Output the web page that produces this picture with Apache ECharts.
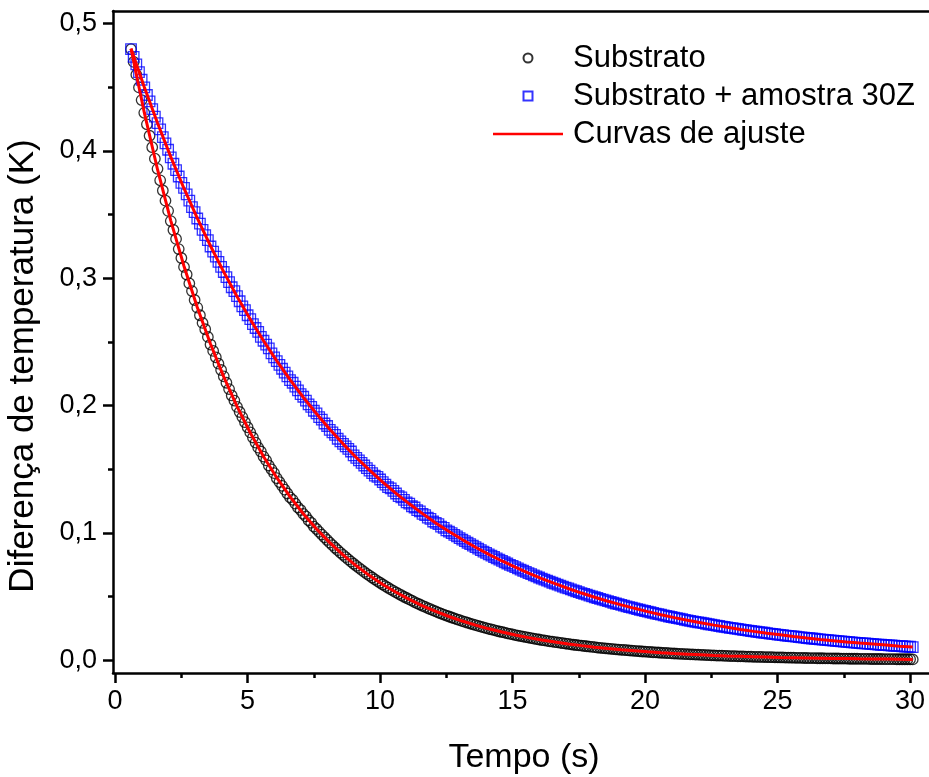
<!DOCTYPE html>
<html>
<head>
<meta charset="utf-8">
<script src="https://cdn.jsdelivr.net/npm/echarts@6/dist/echarts.min.js"></script>
<style>html,body{margin:0;padding:0;background:#fff;overflow:hidden}#c{width:929px;height:777px}</style>
</head>
<body>
<div id="c"></div>
<script>
// Sampling of the measured data: first time (s) and step (s)
const dataStart = 0.6, dataStep = 0.1;
// Fit curves sampled every 0.5 s from 0.6 s
const fitStart = 0.6, fitStep = 0.5;

const xMajorTicks = [0, 5, 10, 15, 20, 25, 30];
const yMajorTicks = [0, 0.1, 0.2, 0.3, 0.4, 0.5];

const seriesNames = ['Substrato', 'Substrato + amostra 30Z', 'Curvas de ajuste'];

const substrato = [
0.480,0.470,0.460,0.450,0.440,0.430,0.421,0.412,0.403,0.394,
0.386,0.377,0.369,0.361,0.353,0.345,0.338,0.331,0.323,0.316,
0.309,0.303,0.296,0.290,0.283,0.277,0.271,0.265,0.260,0.254,
0.248,0.243,0.238,0.233,0.228,0.223,0.218,0.213,0.208,0.204,
0.199,0.195,0.191,0.187,0.183,0.179,0.175,0.171,0.167,0.164,
0.160,0.157,0.153,0.150,0.147,0.143,0.140,0.137,0.134,0.131,
0.128,0.126,0.123,0.120,0.118,0.115,0.113,0.110,0.108,0.105,
0.1031,0.1009,0.0987,0.0966,0.0945,0.0924,0.0904,0.0884,0.0865,0.0846,
0.0828,0.0810,0.0792,0.0775,0.0758,0.0742,0.0726,0.0710,0.0694,0.0679,
0.0665,0.0650,0.0636,0.0622,0.0609,0.0595,0.0582,0.0570,0.0557,0.0545,
0.0534,0.0522,0.0511,0.0499,0.0489,0.0478,0.0468,0.0457,0.0447,0.0438,
0.0428,0.0419,0.0410,0.0401,0.0392,0.0384,0.0375,0.0367,0.0359,0.0351,
0.0344,0.0336,0.0329,0.0322,0.0315,0.0308,0.0301,0.0295,0.0288,0.0282,
0.0276,0.0270,0.0264,0.0258,0.0253,0.0247,0.0242,0.0237,0.0231,0.0226,
0.0222,0.0217,0.0212,0.0207,0.0203,0.0198,0.0194,0.0190,0.0186,0.0182,
0.0178,0.0174,0.0170,0.0166,0.0163,0.0159,0.0156,0.0152,0.0149,0.0146,
0.0143,0.0140,0.0137,0.0134,0.0131,0.0128,0.0125,0.0122,0.0120,0.0117,
0.0115,0.0112,0.0110,0.0107,0.0105,0.0103,0.0100,0.0098,0.0096,0.0094,
0.0092,0.0090,0.0088,0.0086,0.0084,0.0082,0.0081,0.0079,0.0077,0.0075,
0.0074,0.0072,0.0071,0.0069,0.0068,0.0066,0.0065,0.0063,0.0062,0.0061,
0.0059,0.0058,0.0057,0.0056,0.0054,0.0053,0.0052,0.0051,0.0050,0.0049,
0.0048,0.0047,0.0046,0.0045,0.0044,0.0043,0.0042,0.0041,0.0040,0.0039,
0.0038,0.0037,0.0037,0.0036,0.0035,0.0034,0.0033,0.0033,0.0032,0.0031,
0.0031,0.0030,0.0029,0.0029,0.0028,0.0027,0.0027,0.0026,0.0026,0.0025,
0.0025,0.0024,0.0024,0.0023,0.0023,0.0022,0.0022,0.0021,0.0021,0.0020,
0.0020,0.0019,0.0019,0.0019,0.0018,0.0018,0.0017,0.0017,0.0017,0.0016,
0.0016,0.0016,0.0015,0.0015,0.0015,0.0014,0.0014,0.0014,0.0013,0.0013,
0.0013,0.0012,0.0012,0.0012,0.0012,0.0011,0.0011,0.0011,0.0011,0.0010,
0.0010,0.0010,0.0010,0.0010,0.0009,0.0009,0.0009,0.0009,0.0009,0.0008,
0.0008,0.0008,0.0008,0.0008,0.0008,0.0007
];

const amostra30Z = [
0.480,0.474,0.468,0.462,0.456,0.450,0.444,0.439,0.433,0.427,
0.422,0.417,0.411,0.406,0.401,0.395,0.390,0.385,0.380,0.375,
0.371,0.366,0.361,0.356,0.352,0.347,0.343,0.338,0.334,0.330,
0.325,0.321,0.317,0.313,0.309,0.305,0.301,0.297,0.293,0.290,
0.286,0.282,0.278,0.275,0.271,0.268,0.264,0.261,0.258,0.254,
0.251,0.248,0.245,0.241,0.238,0.235,0.232,0.229,0.226,0.223,
0.220,0.218,0.215,0.212,0.209,0.207,0.204,0.201,0.199,0.196,
0.194,0.191,0.189,0.186,0.184,0.181,0.179,0.177,0.174,0.172,
0.170,0.168,0.166,0.164,0.161,0.159,0.157,0.155,0.153,0.151,
0.149,0.147,0.145,0.144,0.142,0.140,0.138,0.136,0.135,0.133,
0.131,0.129,0.128,0.126,0.124,0.123,0.121,0.120,0.118,0.117,
0.115,0.114,0.112,0.111,0.109,0.108,0.107,0.105,0.104,0.102,
0.1011,0.0998,0.0985,0.0973,0.0960,0.0948,0.0936,0.0923,0.0912,0.0900,
0.0888,0.0877,0.0865,0.0854,0.0843,0.0832,0.0822,0.0811,0.0800,0.0790,
0.0780,0.0770,0.0760,0.0750,0.0741,0.0731,0.0722,0.0712,0.0703,0.0694,
0.0685,0.0676,0.0667,0.0659,0.0650,0.0642,0.0634,0.0625,0.0617,0.0609,
0.0602,0.0594,0.0586,0.0579,0.0571,0.0564,0.0557,0.0549,0.0542,0.0535,
0.0528,0.0521,0.0515,0.0508,0.0502,0.0495,0.0489,0.0482,0.0476,0.0470,
0.0464,0.0458,0.0452,0.0446,0.0441,0.0435,0.0429,0.0424,0.0418,0.0413,
0.0408,0.0402,0.0397,0.0392,0.0387,0.0382,0.0377,0.0372,0.0367,0.0363,
0.0358,0.0353,0.0349,0.0344,0.0340,0.0335,0.0331,0.0327,0.0323,0.0318,
0.0314,0.0310,0.0306,0.0302,0.0298,0.0295,0.0291,0.0287,0.0283,0.0280,
0.0276,0.0272,0.0269,0.0265,0.0262,0.0259,0.0255,0.0252,0.0249,0.0246,
0.0242,0.0239,0.0236,0.0233,0.0230,0.0227,0.0224,0.0221,0.0218,0.0216,
0.0213,0.0210,0.0207,0.0205,0.0202,0.0200,0.0197,0.0194,0.0192,0.0189,
0.0187,0.0185,0.0182,0.0180,0.0178,0.0175,0.0173,0.0171,0.0169,0.0166,
0.0164,0.0162,0.0160,0.0158,0.0156,0.0154,0.0152,0.0150,0.0148,0.0146,
0.0144,0.0142,0.0141,0.0139,0.0137,0.0135,0.0133,0.0132,0.0130,0.0128,
0.0127,0.0125,0.0123,0.0122,0.0120,0.0119,0.0117,0.0116,0.0114,0.0113,
0.0111,0.0110,0.0108,0.0107,0.0106,0.0104
];

const fitSubstrato = [
0.4803,0.4303,0.3855,0.3454,0.3095,0.2773,0.2484,0.2226,0.1994,0.1787,
0.1601,0.1434,0.1285,0.1151,0.1031,0.0924,0.0828,0.0742,0.0665,0.0595,
0.0534,0.0478,0.0428,0.0384,0.0344,0.0308,0.0276,0.0247,0.0222,0.0198,
0.0178,0.0159,0.0143,0.0128,0.0115,0.0103,0.0092,0.0082,0.0074,0.0066,
0.0059,0.0053,0.0048,0.0043,0.0038,0.0034,0.0031,0.0028,0.0025,0.0022,
0.0020,0.0018,0.0016,0.0014,0.0013,0.0011,0.0010,0.0009,0.0008,0.0007
];

const fitAmostra30Z = [
0.4805,0.4503,0.4220,0.3954,0.3706,0.3473,0.3254,0.3050,0.2858,0.2678,
0.2510,0.2352,0.2204,0.2066,0.1936,0.1814,0.1700,0.1593,0.1493,0.1399,
0.1311,0.1229,0.1152,0.1079,0.1011,0.0948,0.0888,0.0832,0.0780,0.0731,
0.0685,0.0642,0.0602,0.0564,0.0528,0.0495,0.0464,0.0435,0.0408,0.0382,
0.0358,0.0335,0.0314,0.0295,0.0276,0.0259,0.0242,0.0227,0.0213,0.0200,
0.0187,0.0175,0.0164,0.0154,0.0144,0.0135,0.0127,0.0119,0.0111,0.0104
];

function pair(start, step, ys) {
  return ys.map((y, i) => [Math.round((start + step * i) * 10) / 10, y]);
}

const FONT = '"Liberation Sans", Arial, Helvetica, sans-serif';
const fmt = v => v.toFixed(1).replace('.', ',');
const AXW = 2.5;
const X_MIN = -0.08, X_MAX = 30.94, Y_MIN = -0.01, Y_MAX = 0.51;
const minorTick = {show: true, splitNumber: 2, length: 5, lineStyle: {color: '#000', width: AXW}};

const chart = echarts.init(document.getElementById('c'), null, {renderer: 'canvas'});
chart.setOption({
  animation: false,
  backgroundColor: '#fff',
  textStyle: {fontFamily: FONT, color: '#000'},
  grid: {left: 113, top: 11, width: 822, bottom: 104, containLabel: false, outerBoundsMode: 'none', show: false},
  legend: {
    orient: 'vertical', left: 493, top: 42, padding: 0,
    itemWidth: 70, itemHeight: 9, itemGap: 6,
    textStyle: {fontSize: 31, color: '#000', fontFamily: FONT, lineHeight: 32, padding: [0, 0, 0, 5]},
    data: [
      {name: seriesNames[0], icon: 'circle'},
      {name: seriesNames[1], icon: 'path://M0,0L10,0L10,10L0,10Z'},
      {name: seriesNames[2], icon: 'path://M0,0L70,0L70,2.6L0,2.6Z', itemStyle: {color: '#ff0000', borderWidth: 0}}
    ]
  },
  xAxis: [
    {
      type: 'value', position: 'bottom', min: X_MIN, max: X_MAX, splitNumber: 6,
      name: 'Tempo (s)', nameLocation: 'middle', nameGap: 68,
      nameTextStyle: {fontSize: 34, color: '#000', fontFamily: FONT},
      axisLine: {show: true, onZero: false, lineStyle: {color: '#000', width: AXW}},
      axisTick: {show: true, inside: false, length: 10, lineStyle: {color: '#000', width: AXW}, customValues: xMajorTicks},
      minorTick: minorTick,
      axisLabel: {show: true, fontSize: 27, color: '#000', fontFamily: FONT, margin: 15, customValues: xMajorTicks, formatter: v => String(v)},
      splitLine: {show: false}, minorSplitLine: {show: false}
    },
    {
      type: 'value', position: 'top', min: X_MIN, max: X_MAX,
      axisLine: {show: true, onZero: false, lineStyle: {color: '#000', width: AXW}},
      axisTick: {show: false},
      axisLabel: {show: false},
      splitLine: {show: false}
    }
  ],
  yAxis: [
    {
      type: 'value', position: 'left', min: Y_MIN, max: Y_MAX, splitNumber: 5,
      name: 'Diferença de temperatura (K)', nameLocation: 'middle', nameGap: 72,
      nameTextStyle: {fontSize: 35, color: '#000', fontFamily: FONT, padding: [0, 48, 0, 0]},
      axisLine: {show: true, onZero: false, lineStyle: {color: '#000', width: AXW}},
      axisTick: {show: true, inside: false, length: 10, lineStyle: {color: '#000', width: AXW}, customValues: yMajorTicks},
      minorTick: minorTick,
      axisLabel: {show: true, fontSize: 27, color: '#000', fontFamily: FONT, margin: 16, customValues: yMajorTicks, formatter: fmt},
      splitLine: {show: false}, minorSplitLine: {show: false}
    }
  ],
  series: [
    {
      name: seriesNames[0], type: 'scatter', xAxisIndex: 0, yAxisIndex: 0, z: 2,
      symbol: 'circle', symbolSize: 10.5,
      itemStyle: {color: 'rgba(255,255,255,0)', borderColor: '#000', borderWidth: 1.3},
      data: pair(dataStart, dataStep, substrato)
    },
    {
      name: seriesNames[1], type: 'scatter', xAxisIndex: 0, yAxisIndex: 0, z: 3,
      symbol: 'rect', symbolSize: 10.5,
      itemStyle: {color: 'rgba(255,255,255,0)', borderColor: '#0000ff', borderWidth: 1.3},
      data: pair(dataStart, dataStep, amostra30Z)
    },
    {
      name: seriesNames[2], type: 'line', xAxisIndex: 0, yAxisIndex: 0, z: 4,
      symbol: 'none', showSymbol: false, smooth: false,
      lineStyle: {color: '#ff0000', width: 3}, itemStyle: {color: '#ff0000'},
      data: pair(fitStart, fitStep, fitSubstrato)
    },
    {
      name: seriesNames[2], type: 'line', xAxisIndex: 0, yAxisIndex: 0, z: 4,
      symbol: 'none', showSymbol: false, smooth: false,
      lineStyle: {color: '#ff0000', width: 3}, itemStyle: {color: '#ff0000'},
      data: pair(fitStart, fitStep, fitAmostra30Z)
    }
  ]
});
</script>
</body>
</html>
